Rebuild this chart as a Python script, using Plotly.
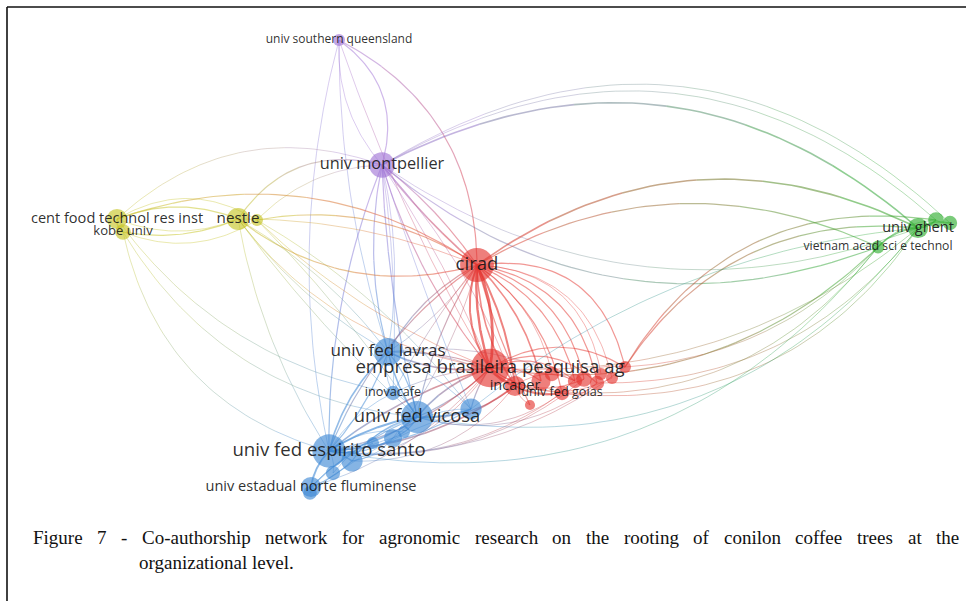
import numpy as np
import plotly.graph_objects as go

W, H = 966, 601

# ---------------------------------------------------------------------------
# Organisations: map coordinates (y grows downward), documents, cluster
# ---------------------------------------------------------------------------
org_keys = ["usq", "mont", "cft", "kobe", "nestle", "y4",
            "cirad", "embrapa", "incaper", "goias",
            "r1", "r2", "r3", "r4", "r5", "r6", "r7", "r8", "r9",
            "lavras", "inova", "vicosa", "b1", "ufes", "b2", "b3", "b4", "b5",
            "b6", "uenf", "b7",
            "ghent", "g1", "g2", "vast"]
org_labels = ["univ southern queensland", "univ montpellier",
              "cent food technol res inst", "kobe univ", "nestle", "",
              "cirad", "empresa brasileira pesquisa ag", "incaper", "univ fed goias",
              "", "", "", "", "", "", "", "", "",
              "univ fed lavras", "inovacafe", "univ fed vicosa", "",
              "univ fed espirito santo", "", "", "", "", "",
              "univ estadual norte fluminense", "",
              "univ ghent", "", "", "vietnam acad sci e technol"]
org_x = [339, 382, 117, 123, 238, 257,
         477, 490, 515, 562,
         530, 541, 575, 584, 597, 601, 625, 552, 612,
         388, 393, 417, 471, 329, 352, 393, 404, 373,
         333, 311, 310,
         918, 936, 950, 878]
org_y = [40, 165, 219, 232, 219, 220,
         265, 368, 386, 393,
         405, 381, 381, 379, 383, 374, 367, 374, 378,
         352, 393, 417, 409, 451, 461, 438, 432, 443,
         473, 487, 493,
         228, 220, 223, 247]
org_docs = [3.5, 16, 10, 6, 12, 3.5,
            28, 36, 10, 5,
            2.5, 9, 5, 6, 5, 3.5, 3.5, 5, 3.5,
            19, 5, 25, 11, 27, 11, 8, 3.5, 3.5,
            5, 10, 4.5,
            10, 6, 5, 4]
# 1 red, 2 blue, 3 green, 4 yellow, 5 purple
org_cluster = [5, 5, 4, 4, 4, 4,
               1, 1, 1, 1,
               1, 1, 1, 1, 1, 1, 1, 1, 1,
               2, 2, 2, 2, 2, 2, 2, 2, 2,
               2, 2, 2,
               3, 3, 3, 3]

# Co-authorship links: source, target, link strength
link_src = ["usq", "usq", "usq", "usq", "usq", "usq",
            "mont", "mont", "mont", "mont", "mont", "mont", "mont", "mont", "mont",
            "mont", "mont", "mont", "mont", "mont", "mont", "mont", "mont", "mont", "mont",
            "cft", "cft", "cft", "kobe", "cft", "cft", "kobe", "nestle", "nestle", "y4",
            "y4", "nestle", "nestle", "nestle", "nestle", "nestle", "y4", "y4", "kobe",
            "kobe", "cft",
            "cirad", "cirad", "cirad", "cirad", "cirad", "cirad", "cirad", "cirad", "cirad",
            "cirad", "cirad", "cirad", "cirad", "cirad", "cirad",
            "embrapa", "embrapa", "embrapa", "embrapa", "embrapa", "embrapa", "embrapa",
            "embrapa", "incaper", "incaper", "incaper", "goias", "goias",
            "embrapa", "embrapa", "embrapa", "embrapa", "embrapa", "embrapa", "embrapa",
            "embrapa", "embrapa", "embrapa", "incaper", "incaper", "incaper", "incaper",
            "goias", "goias", "r7", "r5", "r3", "r4", "cirad", "cirad", "cirad", "cirad",
            "cirad", "cirad",
            "cirad", "cirad", "r7", "r7", "r7", "r5", "embrapa", "embrapa", "goias",
            "incaper",
            "b1", "vicosa", "ufes",
            "lavras", "lavras", "lavras", "lavras", "lavras", "lavras", "vicosa", "vicosa",
            "vicosa", "vicosa", "vicosa", "vicosa", "ufes", "ufes", "ufes", "ufes", "ufes",
            "ufes", "ufes", "uenf", "uenf", "uenf", "b2", "b6", "b7", "inova", "b1", "b1",
            "ghent", "ghent", "ghent", "g1", "vast"]
link_tgt = ["mont", "mont", "lavras", "cirad", "embrapa", "ufes",
            "ghent", "g1", "g2", "vast", "ghent", "cirad", "cirad", "embrapa", "embrapa",
            "incaper", "lavras", "lavras", "vicosa", "ufes", "inova", "b1", "nestle", "y4",
            "cft",
            "kobe", "nestle", "nestle", "nestle", "y4", "cirad", "y4", "cirad", "cirad",
            "cirad",
            "embrapa", "embrapa", "lavras", "lavras", "vicosa", "ufes", "vicosa", "b1",
            "ufes",
            "vicosa", "inova",
            "embrapa", "embrapa", "embrapa", "incaper", "incaper", "goias", "r1", "r2", "r3",
            "r4", "r5", "r6", "r7", "r8", "r9",
            "incaper", "goias", "r2", "r3", "r4", "r5", "r7",
            "r9", "goias", "r1", "r3", "r5", "r7",
            "lavras", "lavras", "vicosa", "vicosa", "ufes", "ufes", "inova",
            "b1", "b2", "uenf", "ufes", "vicosa", "lavras", "b2",
            "ufes", "vicosa", "ufes", "vicosa", "lavras", "ufes", "lavras", "lavras",
            "vicosa", "ufes",
            "inova", "b3",
            "ghent", "vast", "ghent", "g1", "vast", "ghent", "vast", "ghent", "ghent",
            "vast",
            "ghent", "ghent", "vast",
            "vicosa", "vicosa", "ufes", "ufes", "inova", "b1", "ufes", "ufes",
            "b1", "b2", "b3", "inova", "b2", "b3", "b4", "b5", "uenf",
            "b6", "b7", "b2", "vicosa", "b3", "b3", "vicosa", "b1", "ufes", "ufes", "b3",
            "g1", "g2", "vast", "g2", "g1"]
link_strength = [1.5, 1, 1, 1.5, 1, 1,
                 2, 1, 1, 1.5, 1, 2, 1.5, 1.5, 1,
                 1, 1.5, 1, 1.5, 1.5, 1, 1, 1.5, 1, 1,
                 2, 1.5, 1, 1.5, 1, 1.5, 1, 1.5, 1, 1.5,
                 1, 1, 1, 1, 1, 1, 1, 1, 1,
                 1, 1,
                 3.5, 3, 2.5, 2.5, 2, 1.5, 1.5, 2, 1.5,
                 1.5, 1.5, 1, 1.5, 1, 1,
                 2.5, 2, 1.5, 1.5, 1.5, 1.5, 1.5,
                 1, 1.5, 1, 1, 1, 1,
                 2, 1.5, 2, 1.5, 2, 1.5, 1,
                 1.5, 1, 1, 2, 1.5, 1, 1,
                 1, 1, 1, 1, 1, 1, 1.5, 1, 1.5, 1.5,
                 1, 1,
                 2, 1.5, 1.5, 1.5, 1, 1, 1.5, 1, 1,
                 1,
                 1, 1, 1,
                 2, 1.5, 2, 1.5, 1, 1, 2.5, 2,
                 2, 1.5, 1.5, 1, 2, 1.5, 1, 1.5, 2,
                 1, 1, 1.5, 1.5, 1, 1, 1, 1, 1, 1.5, 1,
                 2, 1.5, 2, 1, 1]

# Drawing curvature of each link (signed bulge relative to its chord)
link_curve = [-0.35, 0.2, 0.08, -0.3, 0.05, 0.12,
              -0.34, -0.36, -0.38, 0.29, 0.26, 0.05, -0.08, 0.1, -0.05,
              -0.1, 0.12, -0.1, 0.05, 0.1, -0.05, 0.02, 0.35, 0.2, 0.3,
              0.3, -0.2, 0.2, 0.15, -0.3, -0.25, 0.25, 0.25, -0.1, -0.2,
              0.1, 0.2, 0.1, -0.1, 0.05, 0.1, -0.05, -0.1, 0.3,
              0.25, 0.2,
              -0.15, 0.1, 0.25, -0.1, 0.15, -0.2, 0.05, -0.15, -0.25,
              -0.3, -0.35, -0.4, -0.45, -0.2, -0.38,
              0.2, 0.25, -0.2, -0.3, 0.3, -0.35, -0.3,
              0.3, 0.2, 0.2, -0.3, 0.3, -0.3,
              -0.15, 0.1, 0.15, -0.1, 0.1, -0.15, 0.1,
              0.1, -0.2, -0.15, -0.15, -0.2, 0.15, -0.25,
              -0.2, -0.25, -0.2, -0.25, 0.15, -0.22, 0.15, -0.1, 0.1, 0.15,
              0.05, -0.1,
              -0.30, -0.26, -0.3, -0.33, 0.2, 0.25, 0.25, 0.2, 0.3,
              0.3,
              -0.15, 0.3, 0.3,
              0.1, -0.15, 0.15, -0.1, 0.2, -0.1, 0.1, -0.15,
              0.1, 0.2, -0.2, 0.2, -0.1, 0.2, -0.2, 0.2, 0.15,
              -0.2, 0.2, 0.1, -0.1, -0.15, 0.2, -0.15, -0.1, 0.15, -0.12, 0.2,
              0.2, -0.2, 0.2, 0.2, -0.2]

CLUSTER_RGB = {
    1: (228, 52, 48),    # red
    2: (62, 136, 212),   # blue
    3: (44, 172, 44),    # green
    4: (198, 196, 36),   # yellow
    5: (160, 116, 214),  # purple
}

idx = {k: i for i, k in enumerate(org_keys)}
radius = [3.2 * np.sqrt(d) for d in org_docs]


def label_size(r):
    return float(np.clip(8 + 0.65 * r, 12, 18.6))


def rgba(c, a):
    return f"rgba({int(round(c[0]))},{int(round(c[1]))},{int(round(c[2]))},{a:.3f})"


def curve_points(p0, p2, bend, n=48):
    p0 = np.asarray(p0, float)
    p2 = np.asarray(p2, float)
    d = p2 - p0
    L = np.hypot(*d)
    normal = np.array([-d[1], d[0]]) / L
    ctrl = (p0 + p2) / 2 + bend * L * normal
    t = np.linspace(0, 1, n)[:, None]
    return (1 - t) ** 2 * p0 + 2 * (1 - t) * t * ctrl + t ** 2 * p2


fig = go.Figure()

# links, coloured with a gradient from one cluster colour to the other
SEG = 6
for s, t, w, b in zip(link_src, link_tgt, link_strength, link_curve):
    i, j = idx[s], idx[t]
    pts = curve_points((org_x[i], org_y[i]), (org_x[j], org_y[j]), b)
    ca = np.array(CLUSTER_RGB[org_cluster[i]], float)
    cb = np.array(CLUSTER_RGB[org_cluster[j]], float)
    alpha = min(0.36 + 0.1 * w, 0.7)
    width = 0.8 + 0.8 * (w - 1)
    if org_cluster[i] == org_cluster[j]:
        fig.add_trace(go.Scatter(x=pts[:, 0], y=pts[:, 1], mode="lines",
                                 line=dict(color=rgba(ca, alpha), width=width),
                                 hoverinfo="skip", showlegend=False))
        continue
    n = len(pts)
    cuts = np.linspace(0, n - 1, SEG + 1).round().astype(int)
    for k in range(SEG):
        seg = pts[cuts[k]:cuts[k + 1] + 1]
        f = (k + 0.5) / SEG
        col = ca * (1 - f) + cb * f
        fig.add_trace(go.Scatter(x=seg[:, 0], y=seg[:, 1], mode="lines",
                                 line=dict(color=rgba(col, alpha), width=width),
                                 hoverinfo="skip", showlegend=False))

# organisation nodes, smaller ones on top
order = np.argsort(org_docs)[::-1]
fig.add_trace(go.Scatter(
    x=[org_x[i] for i in order], y=[org_y[i] for i in order], mode="markers",
    marker=dict(size=[2 * radius[i] for i in order],
                color=[rgba(CLUSTER_RGB[org_cluster[i]], 0.9) for i in order],
                line=dict(width=0)),
    hoverinfo="skip", showlegend=False))

# labels centred on their nodes
lab = [i for i, s in enumerate(org_labels) if s]
fig.add_trace(go.Scatter(
    x=[org_x[i] for i in lab], y=[org_y[i] for i in lab], mode="text",
    text=[org_labels[i] for i in lab], textposition="middle center",
    textfont=dict(family="Open Sans", color="rgba(20,20,20,0.9)",
                  size=[label_size(radius[i]) for i in lab]),
    cliponaxis=True, hoverinfo="skip", showlegend=False))

# ---------------------------------------------------------------------------
# Caption, justified on its first line (Times metrics)
# ---------------------------------------------------------------------------
caption_line1 = ("Figure 7 - Co-authorship network for agronomic research on the "
                 "rooting of conilon coffee trees at the")
caption_line2 = "organizational level."

TIMES = {" ": 250, "-": 333, "7": 500, ".": 250, "C": 667, "F": 556,
         "a": 444, "b": 500, "c": 444, "d": 500, "e": 444, "f": 333, "g": 500,
         "h": 500, "i": 278, "j": 278, "k": 500, "l": 278, "m": 778, "n": 500,
         "o": 500, "p": 500, "q": 500, "r": 333, "s": 389, "t": 278, "u": 500,
         "v": 500, "w": 722, "x": 500, "y": 500, "z": 444}
FS = 19
left, right = 31, 957


def text_width(s):
    return sum(TIMES.get(ch, 500) for ch in s) * FS / 1000


words = caption_line1.split(" ")
gap = (right - left - sum(text_width(wd) for wd in words)) / (len(words) - 1)
xpos = left
for wd in words:
    fig.add_annotation(x=xpos / W, y=1 - 537 / H, xref="paper", yref="paper",
                       text=wd, showarrow=False, xanchor="left", yanchor="middle",
                       font=dict(family="Liberation Serif, Times New Roman, serif",
                                 size=FS, color="#111"))
    xpos += text_width(wd) + gap
fig.add_annotation(x=137 / W, y=1 - 562 / H, xref="paper", yref="paper",
                   text=caption_line2, showarrow=False, xanchor="left",
                   yanchor="middle",
                   font=dict(family="Liberation Serif, Times New Roman, serif",
                             size=FS, color="#111"))

# page frame (left and top rules)
fx, fy = 7 / W, 1 - 7 / H
fig.add_shape(type="line", xref="paper", yref="paper", x0=fx, y0=-0.01, x1=fx, y1=fy,
              line=dict(color="#111", width=1.6))
fig.add_shape(type="line", xref="paper", yref="paper", x0=fx, y0=fy, x1=1.01, y1=fy,
              line=dict(color="#111", width=1.6))

fig.update_layout(
    width=W, height=H, margin=dict(l=0, r=0, t=0, b=0),
    paper_bgcolor="white", plot_bgcolor="white",
    xaxis=dict(range=[30, W], domain=[30 / W, 1], visible=False, fixedrange=True),
    yaxis=dict(range=[H, 0], domain=[0, 1], visible=False, fixedrange=True),
    showlegend=False,
)

fig.write_html("out.html")
